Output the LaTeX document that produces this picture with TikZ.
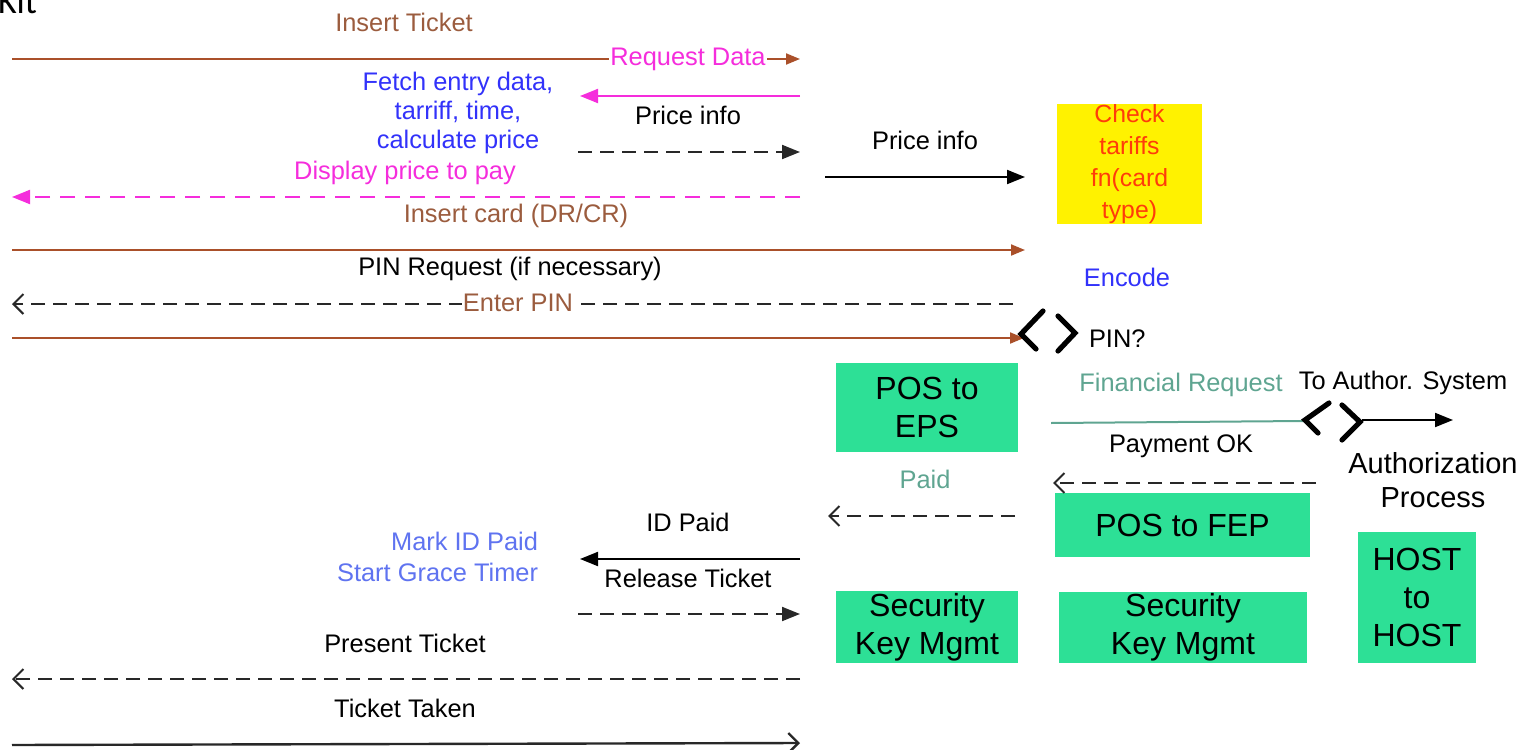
\documentclass[tikz,border=0pt]{standalone}
\usepackage{fontspec}
\setmainfont{Liberation Sans}
\newfontfamily\slidefont{Carlito}
\usetikzlibrary{arrows.meta}

\definecolor{tktbrown}{RGB}{170,80,42}
\definecolor{lblbrown}{RGB}{155,92,62}
\definecolor{msgpink}{RGB}{245,45,220}
\definecolor{msgblue}{RGB}{50,50,250}
\definecolor{markblue}{RGB}{95,115,240}
\definecolor{posgreen}{RGB}{45,224,150}
\definecolor{tariffyellow}{RGB}{255,242,0}
\definecolor{tariffred}{RGB}{255,60,10}
\definecolor{finteal}{RGB}{95,165,145}
\definecolor{dashgray}{RGB}{40,40,40}

\tikzset{
  lbl/.style={font=\fontsize{12.7}{15.5}\selectfont, align=center, inner sep=1pt},
  box/.style={fill=posgreen, font=\fontsize{16}{19}\selectfont, align=center, inner sep=0pt},
  bighead/.style={-{Triangle[length=9pt,width=7pt]}},
  smallhead/.style={-{Triangle[length=7pt,width=5.5pt]}},
  openhead/.style={-{Straight Barb[length=5pt,width=10pt]}},
  gapped/.style={dash pattern=on 7pt off 4pt},
  chev/.style={line width=2.6pt, line cap=round, line join=miter}
}

\begin{document}
\begin{tikzpicture}[x=0.5pt,y=-0.5pt,line width=1pt]
\clip (0,0) rectangle (1533,750);
\node[anchor=base west, inner sep=0pt, font=\slidefont\fontsize{18}{20}\selectfont] (kit) at (-3,13) {Kit};

% boxes
\node[fill=tariffyellow, text=tariffred, font=\fontsize{12.4}{16}\selectfont, align=center, inner sep=0pt,
      minimum width=72.5pt, minimum height=59pt] (chk) at (1129.5,164) {Check\\tariffs\\fn(card\\type)};
\node[box, minimum width=91pt, minimum height=44.5pt] (eps) at (927,407.5) {POS to\\EPS};
\node[box, minimum width=127.5pt, minimum height=32pt] (fep) at (1182.5,525) {POS to FEP};
\node[box, minimum width=91pt, minimum height=36pt] (sec1) at (927,627) {Security\\Key Mgmt};
\node[box, minimum width=124pt, minimum height=35.5pt] (sec2) at (1183,627.5) {Security\\Key Mgmt};
\node[box, minimum width=59pt, minimum height=65.5pt] (host) at (1417,597.5) {HOST\\to\\HOST};

% ticket in, data request
\coordinate (tk0) at (12,59); \coordinate (tk1) at (800,59);
\draw[tktbrown, smallhead] (tk0) -- (tk1);
\node[lbl, text=lblbrown] (instkt) at (404,22) {Insert Ticket};
\node[lbl, text=msgpink, fill=white, inner sep=0.5pt] (reqdata) at (688,59) {Request Data};
\coordinate (fd0) at (800,96); \coordinate (fd1) at (580,96);
\draw[msgpink, bighead] (fd0) -- (fd1);
\node[lbl, text=msgblue, font=\fontsize{12.7}{14.5}\selectfont] (fetch) at (458,113) {Fetch entry data,\\tarriff, time,\\calculate price};
\node[lbl] (price1) at (688,115) {Price info};
\coordinate (pi0) at (578,152); \coordinate (pi1) at (800,152);
\draw[dashgray, gapped, bighead] (pi0) -- (pi1);
\node[lbl] (price2) at (925,140) {Price info};
\coordinate (pj0) at (825,177); \coordinate (pj1) at (1025,177);
\draw[bighead] (pj0) -- (pj1);
\node[lbl, text=msgpink] (display) at (405,173) {Display price to pay};
\coordinate (dp0) at (800,197); \coordinate (dp1) at (12,197);
\draw[msgpink, dash pattern=on 7.5pt off 5pt, bighead] (dp0) -- (dp1);

% card and PIN
\node[lbl, text=lblbrown] (inscard) at (516,216) {Insert card (DR/CR)};
\coordinate (ic0) at (12,250); \coordinate (ic1) at (1025,250);
\draw[tktbrown, smallhead] (ic0) -- (ic1);
\node[lbl] (pinreq) at (510,269) {PIN Request (if necessary)};
\coordinate (pr0) at (1013,304); \coordinate (pr1) at (12,304);
\draw[dashgray, gapped, openhead] (pr0) -- (pr1);
\node[lbl, text=lblbrown, fill=white, inner sep=0.5pt] (enterpin) at (518,303) {Enter PIN};
\node[lbl, text=msgblue] (encode) at (1127,277) {Encode};
\coordinate (ep0) at (12,338); \coordinate (ep1) at (1024,338);
\draw[tktbrown, smallhead] (ep0) -- (ep1);
\draw[chev] (1043,311) -- (1021,334) -- (1036,349);
\draw[chev] (1058,316) -- (1075,333) -- (1058,351);
\node[lbl, anchor=west] (pinq) at (1086,339) {PIN?};

% authorisation
\node[lbl, text=finteal] (finreq) at (1181,385) {Financial Request};
\coordinate (fr0) at (1051,423); \coordinate (fr1) at (1304,421);
\draw[finteal] (fr0) -- (fr1);
\draw[chev] (1329,403) -- (1305,420) -- (1318,433);
\draw[chev] (1342,405) -- (1360,422) -- (1342,440);
\node[lbl] (toauth) at (1403,383) {To Author. System};
\coordinate (ta0) at (1362,420); \coordinate (ta1) at (1453,420);
\draw[bighead] (ta0) -- (ta1);
\node[lbl] (payok) at (1181,446) {Payment OK};
\coordinate (po0) at (1316,483); \coordinate (po1) at (1053,483);
\draw[dashgray, gapped, openhead] (po0) -- (po1);
\node[lbl, font=\fontsize{14.5}{17}\selectfont] (authproc) at (1433,480) {Authorization\\Process};

% payment back to the machine
\node[lbl, text=finteal] (paid) at (925,479) {Paid};
\coordinate (pd0) at (1015,516); \coordinate (pd1) at (828,516);
\draw[dashgray, gapped, openhead] (pd0) -- (pd1);
\node[lbl] (idpaid) at (688,522) {ID Paid};
\coordinate (id0) at (800,559); \coordinate (id1) at (580,559);
\draw[bighead] (id0) -- (id1);
\node[lbl, text=markblue, align=right, anchor=east] (mark) at (541,557) {Mark ID Paid\\Start Grace Timer};
\node[lbl] (release) at (688,578) {Release Ticket};
\coordinate (rt0) at (578,614); \coordinate (rt1) at (800,614);
\draw[dashgray, gapped, bighead] (rt0) -- (rt1);

% ticket out
\node[lbl] (present) at (405,643) {Present Ticket};
\coordinate (pt0) at (800,679); \coordinate (pt1) at (12,679);
\draw[dashgray, gapped, openhead] (pt0) -- (pt1);
\node[lbl] (taken) at (405,708) {Ticket Taken};
\coordinate (tt0) at (12,745); \coordinate (tt1) at (800,743);
\draw[dashgray, line width=1.2pt, openhead] (tt0) -- (tt1);
\end{tikzpicture}
\end{document}
